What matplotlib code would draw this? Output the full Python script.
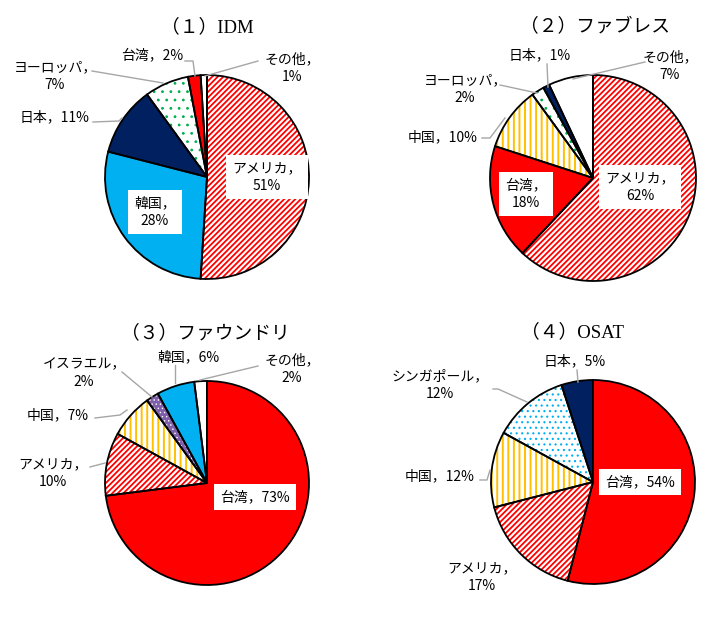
import matplotlib
matplotlib.use("Agg")
import matplotlib.pyplot as plt

plt.rcParams['font.family'] = ['Noto Sans CJK JP', 'DejaVu Sans']
plt.rcParams['hatch.linewidth'] = 1.3

# ---------------- data ----------------
titles = ["（１）IDM", "（２）ファブレス", "（３）ファウンドリ", "（４）OSAT"]

idm_names = ["アメリカ", "韓国", "日本", "ヨーロッパ", "台湾", "その他"]
idm_values = [51, 28, 11, 7, 2, 1]

fabless_names = ["アメリカ", "台湾", "中国", "ヨーロッパ", "日本", "その他"]
fabless_values = [62, 18, 10, 2, 1, 7]

foundry_names = ["台湾", "アメリカ", "中国", "イスラエル", "韓国", "その他"]
foundry_values = [73, 10, 7, 2, 6, 2]

osat_names = ["台湾", "アメリカ", "中国", "シンガポール", "日本"]
osat_values = [54, 17, 12, 12, 5]

# ---------------- styles ----------------
# name -> (face colour, hatch, hatch colour, hatch linewidth)
styles = {
    "アメリカ": ("white", "//////", "#FF0000", 1.3),
    "韓国": ("#00B0F0", None, None, None),
    "日本": ("#002060", None, None, None),
    "ヨーロッパ": ("white", "..", "#00B050", 0.8),
    "台湾": ("#FF0000", None, None, None),
    "その他": ("white", None, None, None),
    "中国": ("white", "|||", "#FFC000", 1.4),
    "イスラエル": ("#7F5FAA", "....", "white", 0.5),
    "シンガポール": ("white", "...", "#00B0F0", 0.8),
}

W, H = 715, 619
fig = plt.figure(figsize=(W / 100, H / 100), dpi=100)

# layout: pie centre (px from top-left), radius px, title position
layout = [
    dict(c=(207, 177), r=102, title=(207, 27)),
    dict(c=(593, 178), r=103, title=(595, 27)),
    dict(c=(207, 483), r=102, title=(205, 333)),
    dict(c=(593, 482), r=102, title=(573, 332)),
]

# label layout per pie: name -> (x, y, boxed, two_line, leader points)
label_layout = [
    {
        "アメリカ": (267, 177, True, True, None),
        "韓国": (155, 212, True, True, None),
        "日本": (55, 117, False, False, [(93, 122), (119, 121), (122, 118)]),
        "ヨーロッパ": (55, 76, False, True, [(92, 71), (163, 83)]),
        "台湾": (152, 55, False, False, [(185, 61), (193, 61), (195, 76)]),
        "その他": (292, 68, False, True, [(258, 61), (205, 76)]),
    },
    {
        "アメリカ": (640, 187, True, True, None),
        "台湾": (526, 194, True, True, None),
        "中国": (443, 137, False, False, [(482, 138), (490, 138), (505, 118)]),
        "ヨーロッパ": (465, 89, False, True, [(500, 85), (537, 93)]),
        "日本": (540, 55, False, False, [(547, 64), (548, 87)]),
        "その他": (670, 66, False, True, [(645, 62), (573, 79)]),
    },
    {
        "台湾": (255, 497, True, False, None),
        "アメリカ": (53, 473, False, True, [(90, 467), (105, 463)]),
        "中国": (58, 415, False, False, [(95, 418), (120, 415), (127, 410)]),
        "イスラエル": (84, 373, False, True, [(122, 372), (152, 397)]),
        "韓国": (188, 357, False, False, [(175, 365), (175, 383)]),
        "その他": (292, 369, False, True, [(258, 366), (200, 380)]),
    },
    {
        "台湾": (640, 482, True, False, None),
        "アメリカ": (482, 577, False, True, None),
        "中国": (440, 476, False, False, [(480, 480), (487, 480), (490, 470)]),
        "シンガポール": (440, 385, False, True, [(493, 389), (498, 389), (527, 402)]),
        "日本": (575, 361, False, False, [(577, 370), (578, 382)]),
    },
]

datasets = [
    (idm_names, idm_values),
    (fabless_names, fabless_values),
    (foundry_names, foundry_values),
    (osat_names, osat_values),
]

L = 1.03
for (names, values), lay in zip(datasets, layout):
    cx, cy = lay["c"]
    r = lay["r"]
    size = 2 * L * r
    ax = fig.add_axes([(cx - L * r) / W, (H - cy - L * r) / H, size / W, size / H])
    faces = [styles[n][0] for n in names]
    wedges, _ = ax.pie(values, colors=faces, startangle=90, counterclock=False,
                       wedgeprops=dict(linewidth=0))
    for w, n in zip(wedges, names):
        face, hatch, hcol, hlw = styles[n]
        if hatch:
            w.set_hatch(hatch)
            w.set_edgecolor(hcol)
            w.set_linewidth(0)
            if hasattr(w, "set_hatch_linewidth"):
                w.set_hatch_linewidth(hlw)
    ax.pie(values, colors=["none"] * len(values), startangle=90, counterclock=False,
           wedgeprops=dict(fill=False, edgecolor="black", linewidth=1.3))
    ax.set_xlim(-L, L)
    ax.set_ylim(-L, L)
    ax.set_aspect("equal")
    ax.axis("off")

# overlay axes in pixel coordinates for titles, labels and leader lines
ov = fig.add_axes([0, 0, 1, 1])
ov.set_xlim(0, W)
ov.set_ylim(H, 0)
ov.axis("off")
ov.patch.set_alpha(0)

for title, lay in zip(titles, layout):
    tx, ty = lay["title"]
    ov.text(tx, ty, title, ha="center", va="center", fontsize=13.5,
            family=["Liberation Serif", "Noto Sans CJK JP"])

for (names, values), labs in zip(datasets, label_layout):
    for n, v in zip(names, values):
        x, y, boxed, two, leader = labs[n]
        sep = "，\n" if two else "，"
        txt = f"{n}{sep}{v}%"
        if leader:
            xs = [p[0] for p in leader]
            ys = [p[1] for p in leader]
            ov.plot(xs, ys, color="#A6A6A6", linewidth=1.0, zorder=2)
        kw = dict(ha="center", va="center", fontsize=10, linespacing=1.4,
                  multialignment="center", zorder=3)
        if boxed:
            kw["bbox"] = dict(boxstyle="square,pad=0.45", facecolor="white", edgecolor="none")
        ov.text(x, y, txt, **kw)

fig.savefig("out.png", dpi=100)
